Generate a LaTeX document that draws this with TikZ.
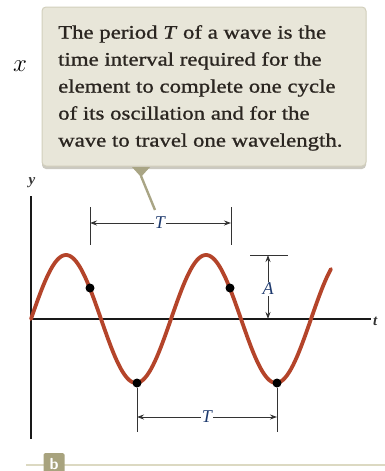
\documentclass[tikz,border=0pt]{standalone}
\usepackage{fontspec}
\usepackage{amsmath,bm}
\setmainfont{Liberation Serif}
\newfontfamily\calloutfont[FakeStretch=1.2, FakeBold=1.0]{Liberation Serif}
\usetikzlibrary{arrows.meta}
\definecolor{boxfill}{HTML}{E8E6D9}
\definecolor{boxedge}{HTML}{D2CFBC}
\definecolor{pointer}{HTML}{A9A585}
\definecolor{wave}{HTML}{B4442A}
\definecolor{lbl}{HTML}{1E3A6E}
\definecolor{rule}{HTML}{DCD9C2}
\definecolor{tagfill}{HTML}{A8A37E}
\definecolor{txt}{HTML}{2A2520}
\tikzset{
  halfdim/.style={line width=0.9pt, black!80, -{Stealth[length=7pt,width=5pt]}},
  tick/.style={line width=0.9pt, black!80},
  axis/.style={line width=1.8pt, black!90},
  dot/.style={circle, fill=black, inner sep=0pt, minimum size=9pt},
  lab/.style={font=\fontsize{18}{18}\selectfont\itshape, text=lbl, inner sep=1pt},
  axlab/.style={font=\fontsize{15}{15}\selectfont\itshape\bfseries, text=black!80, inner sep=0pt}
}
\begin{document}
\begin{tikzpicture}[x=1pt,y=-1pt]
\useasboundingbox (0,0) rectangle (385,471);
% callout
\fill[boxedge!80!black!60, rounded corners=4pt] (42,9) rectangle (366,169);
\draw[boxedge, fill=boxfill, rounded corners=4pt, line width=1pt] (42,7) rectangle (366,166);
\fill[pointer] (132,167) -- (150,167) -- (141,177) -- cycle;
\coordinate (ptip) at (141,176);
\coordinate (pend) at (155,210);
\draw[pointer, line width=2.4pt] (ptip) -- (pend);
\node[anchor=north west, inner sep=0pt, align=left, font=\calloutfont\fontsize{19}{27}\selectfont, text=txt] (callout) at (58,25)
{The period \textit{T} of a wave is the\\
time interval required for the\\
element to complete one cycle\\
of its oscillation and for the\\
wave to travel one wavelength.};
\node (xsym) at (20,66) {\fontsize{42}{42}\selectfont$x$};
% axes
\coordinate (ytop) at (31,196);
\coordinate (ybot) at (31,439);
\coordinate (o) at (31,319);
\coordinate (tend) at (371,319);
\draw[axis] (ytop) -- (ybot);
\draw[axis] (o) -- (tend);
\node[axlab] (ylab) at (32,183) {y};
\node[axlab, anchor=west] (tlab) at (373,321) {t};
% wave
\draw[wave, line width=3.8pt, line cap=round] plot[domain=31:331, samples=200, smooth] (\x, {319 - 64*sin((\x-31)/140*360)});
\node[dot] (d1) at (90,288) {};
\node[dot] (d2) at (230,288) {};
\node[dot] (d3) at (137,383) {};
\node[dot] (d4) at (277,383) {};
% top T
\coordinate (t1a) at (90,207); \coordinate (t1b) at (90,245);
\coordinate (t2a) at (231,207); \coordinate (t2b) at (231,245);
\draw[tick] (t1a) -- (t1b);
\draw[tick] (t2a) -- (t2b);
\node[lab, fill=white] (T1) at (160,223) {T};
\draw[halfdim] (T1) -- (90,223);
\draw[halfdim] (T1) -- (231,223);
% bottom T
\coordinate (b1b) at (137,432);
\coordinate (b2b) at (277,432);
\draw[tick] (d3) -- (b1b);
\draw[tick] (d4) -- (b2b);
\node[lab, fill=white] (T2) at (207,417) {T};
\draw[halfdim] (T2) -- (137,417);
\draw[halfdim] (T2) -- (277,417);
% amplitude
\coordinate (aL) at (250,255); \coordinate (aR) at (288,255);
\draw[tick] (aL) -- (aR);
\node[lab] (A) at (268,289) {A};
\draw[halfdim] (A.north) -- (268,255);
\draw[halfdim] (A.south) -- (268,319);
% bottom rule and tag
\draw[rule, line width=1.6pt] (26,465) -- (385,465);
\node[fill=tagfill, rounded corners=1.5pt, minimum width=21pt, minimum height=22pt, inner sep=0pt, text=white, font=\fontsize{16}{16}\selectfont\sffamily\bfseries, anchor=north] (tag) at (54,453) {b};
\end{tikzpicture}
\end{document}
